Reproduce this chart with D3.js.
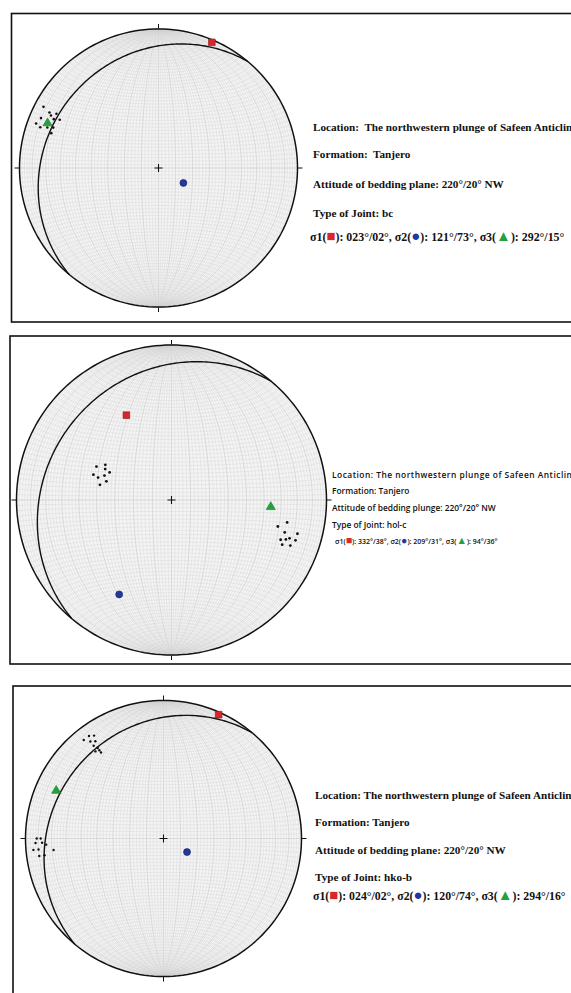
<!DOCTYPE html>
<html>
<head>
<meta charset="utf-8">
<script src="https://cdn.jsdelivr.net/npm/d3@7"></script>
<style>
  body { margin: 0; background: #fff; }
  svg { display: block; }
</style>
</head>
<body>
<div id="chart"></div>
<script>
const width = 571, height = 993;

// bedding plane: strike / dip (dipping NW)
const beddingStrike = [220, 220, 220];
const beddingDip = [20, 20, 20];

// principal stress axes [trend, plunge]
const sigma1 = [[23, 2], [332, 38], [24, 2]];
const sigma2 = [[121, 73], [209, 31], [120, 74]];
const sigma3 = [[292, 15], [94, 36], [294, 16]];

// poles to joints [trend, plunge]
const poles1 = [[298, 7], [297, 13], [296, 15], [298, 18], [293, 9], [295, 18],
  [296, 22], [290, 7], [289, 11], [290, 16], [291, 20], [288, 20]];
const poles2 = [[294, 46], [298, 50], [295, 51], [288, 46], [294, 54], [290, 52],
  [287, 49], [286, 54], [282, 51], [104, 30], [101, 25], [106, 25], [105, 17],
  [110, 26], [109, 23], [108, 21], [108, 17], [112, 24], [111, 19]];
const poles3 = [[321, 9], [324, 9], [326, 11], [323, 13], [325, 15], [323, 17],
  [324, 20], [324, 22], [322, 21], [324, 24], [270, 9], [270, 12], [268, 8],
  [268, 13], [267, 16], [265, 6], [265, 10], [264, 21], [262, 10], [262, 14]];

const jointTypes = ["bc", "hol-c", "hko-b"];
const attitudeWords = ["plane", "plunge", "plane"];
const locationText = "The northwestern plunge of Safeen Anticline";
const formationText = "Tanjero";

const serif = "'Liberation Serif', 'Times New Roman', serif";
const sans = "'Open Sans', 'Noto Sans', sans-serif";

const panels = [
  { box: [11.5, 13.5, 640, 308.5], cx: 158.5, cy: 168, r: 139,
    tx: 313, sx: 310, lines: [131, 158, 187.5, 216.5, 240.5],
    font: serif, weight: 700, size: 11.2, locSpacing: 0, sigSize: 11.9, sigWeight: 700,
    symSize: 15, gap: "\u00A0 ", pad: true, poles: poles1, dot: 1.3 },
  { box: [10, 336, 640, 328], cx: 171.5, cy: 500, r: 155,
    tx: 332, sx: 335, lines: [477.5, 494, 511, 527.5, 544],
    font: sans, weight: 600, size: 8.4, locSpacing: 0.5, sigSize: 7, sigWeight: 600,
    symSize: 10.5, gap: " ", pad: false, poles: poles2, dot: 1.4 },
  { box: [13, 686, 640, 400], cx: 163.5, cy: 838.5, r: 138,
    tx: 315, sx: 313, lines: [798.5, 825.5, 853.5, 881, 900],
    font: serif, weight: 700, size: 11.2, locSpacing: 0, sigSize: 11.8, sigWeight: 700,
    symSize: 15, gap: " ", pad: true, poles: poles3, dot: 1.2 }
];

const rad = Math.PI / 180;
// lower-hemisphere line -> lon/lat on a net whose centre is straight down
const toLonLat = ([trend, plunge]) => {
  const t = trend * rad, p = plunge * rad;
  return [Math.atan2(Math.sin(t) * Math.cos(p), Math.sin(p)) / rad,
          Math.asin(Math.cos(t) * Math.cos(p)) / rad];
};

const fmt = (v, pad) => pad ? String(v).padStart(3, "0") : String(v);
const fmt2 = v => String(v).padStart(2, "0");

const svg = d3.select("#chart").append("svg")
  .attr("width", width)
  .attr("height", height)
  .attr("viewBox", [0, 0, width, height]);

panels.forEach((p, i) => {
  const g = svg.append("g");

  g.append("rect")
    .attr("x", p.box[0]).attr("y", p.box[1])
    .attr("width", p.box[2]).attr("height", p.box[3])
    .attr("fill", "#fff")
    .attr("stroke", "#111")
    .attr("stroke-width", 1.6);

  const proj = d3.geoAzimuthalEqualArea()
    .rotate([0, 0])
    .clipAngle(90)
    .scale(p.r / Math.SQRT2)
    .translate([p.cx, p.cy])
    .precision(0.1);
  const path = d3.geoPath(proj);

  // Schmidt net
  g.append("path").datum({ type: "Sphere" })
    .attr("d", path).attr("fill", "#f4f4f4");

  g.append("path")
    .datum(d3.geoGraticule().step([2, 2]).extentMinor([[-180, -80.01], [180, 80.01]])())
    .attr("d", path)
    .attr("fill", "none")
    .attr("stroke", "#d6d6d6")
    .attr("stroke-width", 0.45);

  g.append("path")
    .datum(d3.geoGraticule().stepMinor([10, 360]).extentMinor([[-180, -89.99], [180, 89.99]])())
    .attr("d", path)
    .attr("fill", "none")
    .attr("stroke", "#cfcfcf")
    .attr("stroke-width", 0.5);

  // bedding great circle (pole = dip direction + 180, plunge 90 - dip)
  const dipDir = (beddingStrike[i] + 90) % 360;
  const pole = toLonLat([(dipDir + 180) % 360, 90 - beddingDip[i]]);
  const ring = d3.geoCircle().center(pole).radius(90).precision(1)().coordinates[0];
  g.append("path")
    .datum({ type: "LineString", coordinates: ring })
    .attr("d", path)
    .attr("fill", "none")
    .attr("stroke", "#111")
    .attr("stroke-width", 1.4);

  // primitive
  g.append("path").datum({ type: "Sphere" })
    .attr("d", path)
    .attr("fill", "none")
    .attr("stroke", "#111")
    .attr("stroke-width", 1.5);

  // N E S W ticks
  [0, 90, 180, 270].forEach(az => {
    const [x, y] = proj(toLonLat([az, 0]));
    const ux = (x - p.cx) / p.r, uy = (y - p.cy) / p.r;
    g.append("line")
      .attr("x1", x + ux * 0.5).attr("y1", y + uy * 0.5)
      .attr("x2", x + ux * 5).attr("y2", y + uy * 5)
      .attr("stroke", "#111").attr("stroke-width", 1);
  });

  // centre cross
  const [cx, cy] = proj([0, 0]);
  g.append("path")
    .attr("d", `M${cx - 4},${cy}H${cx + 4}M${cx},${cy - 4}V${cy + 4}`)
    .attr("stroke", "#111").attr("stroke-width", 1.1);

  // joint poles
  g.selectAll(".pole")
    .data(p.poles)
    .join("circle")
      .attr("class", "pole")
      .attr("cx", d => proj(toLonLat(d))[0])
      .attr("cy", d => proj(toLonLat(d))[1])
      .attr("r", p.dot)
      .attr("fill", "#111");

  // stress axes
  const axes = [
    { d: sigma1[i], type: d3.symbolSquare, size: 44, fill: "#d8262a", stroke: "#8a1518" },
    { d: sigma2[i], type: d3.symbolCircle, size: 38, fill: "#1f3a9e", stroke: "#121f5c" },
    { d: sigma3[i], type: d3.symbolTriangle, size: 36, fill: "#22a23c", stroke: "#177a2a" }
  ];
  g.selectAll(".axis")
    .data(axes)
    .join("path")
      .attr("class", "axis")
      .attr("transform", a => `translate(${proj(toLonLat(a.d))})`)
      .attr("d", a => d3.symbol(a.type, a.size)())
      .attr("fill", a => a.fill)
      .attr("stroke", a => a.stroke)
      .attr("stroke-width", 0.6);

  // text block
  const txt = g.append("g")
    .attr("font-family", p.font)
    .attr("fill", "#111");

  const plain = [
    `Location:${p.gap}${locationText}`,
    `Formation:${p.gap}${formationText}`,
    `Attitude of bedding ${attitudeWords[i]}: ${beddingStrike[i]}°/${beddingDip[i]}° NW`,
    `Type of Joint: ${jointTypes[i]}`
  ];
  plain.forEach((s, k) => {
    txt.append("text")
      .attr("x", p.tx).attr("y", p.lines[k])
      .attr("font-size", p.size)
      .attr("font-weight", p.weight)
      .attr("letter-spacing", k === 0 ? p.locSpacing : 0)
      .text(s);
  });

  const sl = txt.append("text")
    .attr("x", p.sx).attr("y", p.lines[4])
    .attr("font-size", p.sigSize)
    .attr("font-weight", p.sigWeight);
  const parts = [
    ["σ1(", null], ["■", "#d8262a"],
    [`): ${fmt(sigma1[i][0], p.pad)}°/${fmt2(sigma1[i][1])}°, σ2(`, null], ["●", "#1f3a9e"],
    [`): ${fmt(sigma2[i][0], p.pad)}°/${fmt2(sigma2[i][1])}°, σ3(`, null], ["▲", "#22a23c"],
    [`): ${fmt(sigma3[i][0], p.pad)}°/${fmt2(sigma3[i][1])}°`, null]
  ];
  parts.forEach(([s, c]) => {
    const t = sl.append("tspan").text(s);
    if (c) t.attr("fill", c).attr("font-size", p.symSize);
  });
});
</script>
</body>
</html>
